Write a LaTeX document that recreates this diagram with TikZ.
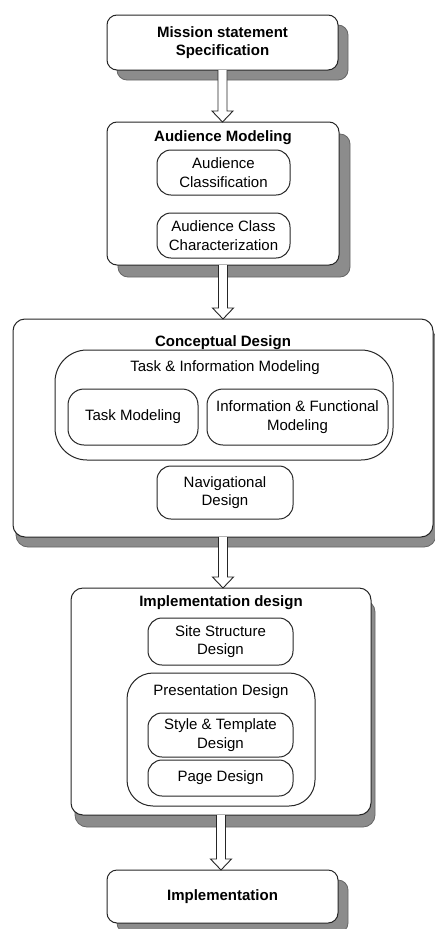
\documentclass[tikz,border=0pt]{standalone}
\usepackage{fontspec}
\setmainfont{Liberation Sans}
\usetikzlibrary{calc}

% shaded frame: a gray copy of the outline shifted right and down
\tikzset{
  frame/.style={draw=black!85, line width=1pt, fill=white, rounded corners=#1,
    inner sep=0pt, outer sep=0pt},
  frame/.default=10pt,
  shade/.style={fill=black!45, draw=black!60, line width=0.8pt, rounded corners=#1},
  shade/.default=10pt,
  head/.style={font=\fontsize{15}{18.5}\selectfont\bfseries, align=center, inner sep=0pt},
  body/.style={font=\fontsize{15}{18.5}\selectfont, align=center, inner sep=0pt},
  arrowline/.style={draw=black!85, line width=0.9pt, fill=white, line join=miter},
}

% hollow block arrow from the bottom of #1 straight down to the top of #2
\newcommand\flowarrow[2]{%
  \draw[arrowline]
    ($(#1.south)+(-4.5,0)$) -- ($(#1.south |- #2.north)+(-4.5,-11)$)
    -- ++(-6,0) -- (#1.south |- #2.north)
    -- ($(#1.south |- #2.north)+(10.5,-11)$) -- ++(-6,0)
    -- ($(#1.south)+(4.5,0)$);}

\begin{document}
\begin{tikzpicture}[x=1pt, y=-1pt]
\useasboundingbox[fill=white] (0,0) rectangle (435,929);

% ---------- shadows of the outer boxes ----------
\fill[shade] (117,25) rectangle (348,80);
\fill[shade] (118,134) rectangle (350,277);
\fill[shade=12pt] (16,328) rectangle (436,547);
\fill[shade=12pt] (75,600) rectangle (375,827);
\fill[shade] (117,880) rectangle (348,933);

% ---------- Mission statement ----------
\node[frame, minimum width=231pt, minimum height=55pt] (mis) at (222.5,42.5) {};
\node[head] (mist) at (222.5,42.5) {Mission statement\\Specification};

% ---------- Audience modeling ----------
\node[frame, minimum width=232pt, minimum height=143pt] (aud) at (223,193.5) {};
\node[head] (audt) at (223,138) {Audience Modeling};
\node[frame=14pt, minimum width=133pt, minimum height=45pt] (audcls) at (223.5,172.5) {};
\node[body] (audclst) at (223.5,172.5) {Audience\\Classification};
\node[frame=14pt, minimum width=133pt, minimum height=45pt] (audchr) at (223.5,235.5) {};
\node[body] (audchrt) at (223.5,235.5) {Audience Class\\Characterization};

% ---------- Conceptual design ----------
\node[frame=12pt, minimum width=420pt, minimum height=218pt] (con) at (223,428) {};
\node[head] (cont) at (223,343) {Conceptual Design};
\node[frame=32pt, minimum width=338pt, minimum height=110pt] (tim) at (224,405) {};
\node[body] (timt) at (225,368) {Task \& Information Modeling};
\node[frame=16pt, minimum width=130pt, minimum height=56pt] (task) at (133,417) {};
\node[body] (taskt) at (133,417) {Task Modeling};
\node[frame=16pt, minimum width=181pt, minimum height=56pt] (info) at (297.5,417) {};
\node[body] (infot) at (297.5,417) {Information \& Functional\\Modeling};
\node[frame=14pt, minimum width=136pt, minimum height=53pt] (nav) at (225,492.5) {};
\node[body] (navt) at (225,492.5) {Navigational\\Design};

% ---------- Implementation design ----------
\node[frame=12pt, minimum width=300pt, minimum height=227pt] (impd) at (221,701.5) {};
\node[head] (impdt) at (221,603) {Implementation design};
\node[frame=14pt, minimum width=145pt, minimum height=47pt] (site) at (220.5,641.5) {};
\node[body] (sitet) at (220.5,641.5) {Site Structure\\Design};
\node[frame=26pt, minimum width=188pt, minimum height=133pt] (pres) at (221,739.5) {};
\node[body] (prest) at (221,692) {Presentation Design};
\node[frame=14pt, minimum width=145pt, minimum height=44pt] (style) at (220.5,735) {};
\node[body] (stylet) at (220.5,735) {Style \& Template\\Design};
\node[frame=14pt, minimum width=145pt, minimum height=36pt] (page) at (220.5,778) {};
\node[body] (paget) at (220.5,778) {Page Design};

% ---------- Implementation ----------
\node[frame, minimum width=231pt, minimum height=53pt] (impl) at (222.5,896.5) {};
\node[head] (implt) at (222.5,896.5) {Implementation};

% ---------- flow arrows ----------
\flowarrow{mis}{aud}
\flowarrow{aud}{con}
\flowarrow{con}{impd}
\flowarrow{impd}{impl}
\end{tikzpicture}
\end{document}
